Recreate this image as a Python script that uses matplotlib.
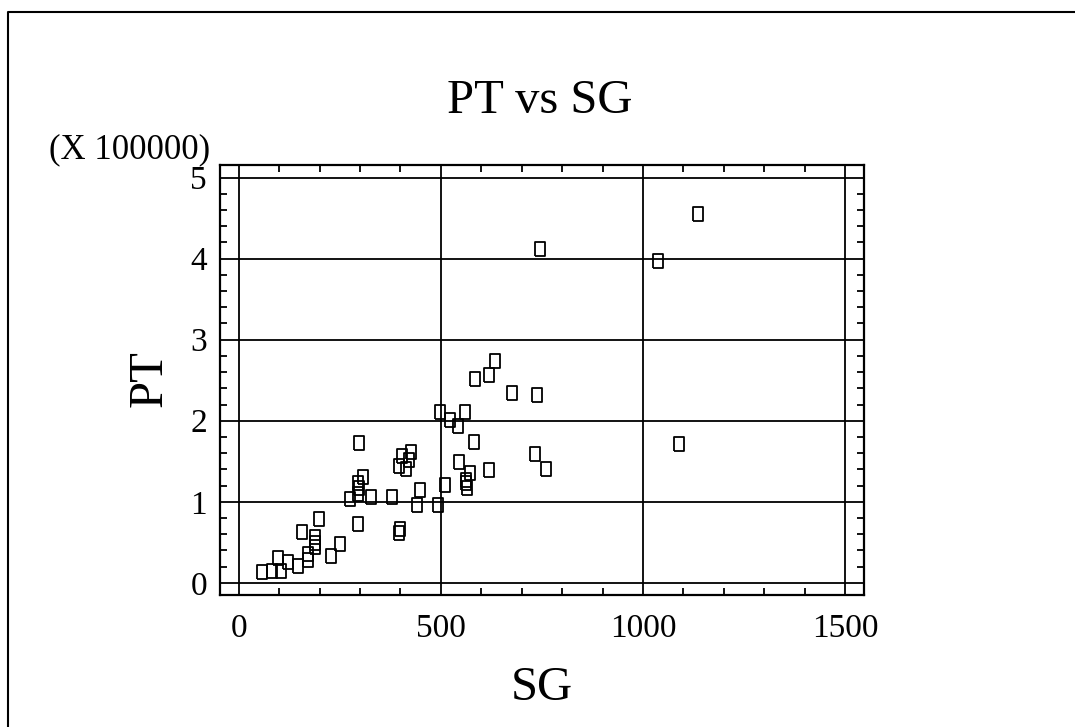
import matplotlib
matplotlib.use('Agg')
import matplotlib.pyplot as plt
from matplotlib.lines import Line2D
from matplotlib.ticker import MultipleLocator

plt.rcParams['font.family'] = ['Liberation Serif', 'DejaVu Serif']

# SG values and PT values (PT in units of 100000)
sg = [58, 81, 104, 97, 122, 147, 170, 170, 157, 188, 188, 188, 199, 228, 251,
      294, 297, 276, 295, 297, 295, 308, 326, 378, 397, 398,
      397, 403, 414, 421, 426, 441, 448, 493, 497,
      634, 620, 585, 676, 739, 522, 543, 560, 582, 732, 761,
      546, 571, 620, 562, 562, 564, 511, 746, 1038, 1136, 1090]
pt = [0.13, 0.15, 0.15, 0.31, 0.26, 0.21, 0.35, 0.28, 0.63, 0.56, 0.49, 0.44, 0.79, 0.33, 0.48,
      0.73, 1.72, 1.03, 1.09, 1.17, 1.23, 1.31, 1.06, 1.06, 0.62, 0.66,
      1.44, 1.56, 1.40, 1.51, 1.62, 0.96, 1.14, 0.96, 2.11,
      2.74, 2.57, 2.51, 2.34, 2.32, 2.01, 1.93, 2.11, 1.74, 1.59, 1.41,
      1.49, 1.36, 1.39, 1.27, 1.23, 1.17, 1.21, 4.12, 3.97, 4.55, 1.71]

x_ticks = [0, 500, 1000, 1500]
y_ticks = [0, 1, 2, 3, 4, 5]

W, H = 1075, 727
fig = plt.figure(figsize=(W / 100, H / 100), dpi=100)
ax = fig.add_axes([219.5 / W, 1 - 595 / H, 644 / W, 430 / H])

# tall open rectangle marker
rect = [(-0.35, -0.5), (0.35, -0.5), (0.35, 0.5), (-0.35, 0.5), (-0.35, -0.5)]
ax.plot(sg, pt, linestyle='none', marker=rect, markersize=9.8,
        markerfacecolor='none', markeredgecolor='black', markeredgewidth=1.3,
        zorder=3)

ax.set_xlim(-48, 1546)
ax.set_ylim(-0.15, 5.155)
ax.set_xticks(x_ticks)
ax.set_yticks(y_ticks)
ax.xaxis.set_minor_locator(MultipleLocator(100))
ax.yaxis.set_minor_locator(MultipleLocator(0.2))
ax.grid(True, which='major', color='black', linewidth=1.3)
ax.tick_params(which='both', direction='in', top=True, right=True,
               labelsize=24, colors='black')
ax.tick_params(which='major', length=0, width=1.3)
ax.tick_params(which='minor', length=5, width=1.3)
ax.tick_params(axis='x', which='major', pad=13)
ax.tick_params(axis='y', which='major', pad=9)
for s in ax.spines.values():
    s.set_linewidth(1.6)

fig.text(540 / W, 1 - 113.3 / H, 'PT vs SG', ha='center', va='baseline', fontsize=35)
fig.text(49 / W, 1 - 158 / H, '(X 100000)', ha='left', va='baseline', fontsize=25)
fig.text(541.5 / W, 1 - 700 / H, 'SG', ha='center', va='baseline', fontsize=35)
fig.text(150 / W, 1 - 379 / H, 'PT', ha='center', va='center', rotation=90, fontsize=35)

# outer frame (left and top edges visible)
bx, by = 7.5 / W, 1 - 11.7 / H
fig.add_artist(Line2D([bx, bx, 1.0], [0.0, by, by], transform=fig.transFigure,
                      color='black', linewidth=1.5))

fig.savefig('out.png', dpi=100, facecolor='white')
